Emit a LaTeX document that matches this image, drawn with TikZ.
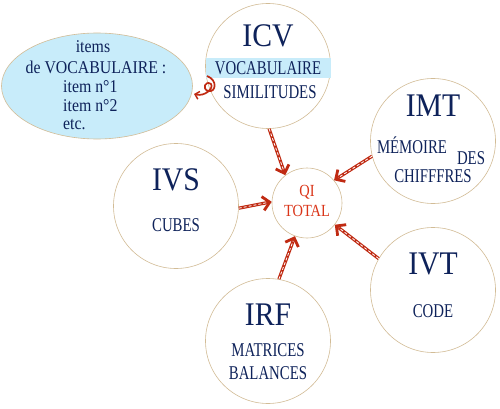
\documentclass[tikz,border=0pt]{standalone}
\usepackage{graphicx}
\usepackage{fontspec}
\setmainfont{Liberation Serif}
\usetikzlibrary{shapes.geometric,arrows.meta}
\definecolor{navy}{RGB}{14,34,90}
\definecolor{ring}{RGB}{210,188,150}
\definecolor{ared}{RGB}{192,42,18}
\definecolor{qired}{RGB}{218,52,24}
\definecolor{skyb}{RGB}{200,236,250}
\newcommand\cnd[2]{\scalebox{#1}[1]{#2}}
\begin{document}
\begin{tikzpicture}[x=1pt,y=-1pt,
  ring/.style={circle, draw=ring, line width=0.6pt, minimum size=125pt, inner sep=0pt},
  ttl/.style={text=navy, font=\fontsize{33}{33}\selectfont, inner sep=0pt},
  lbl/.style={text=navy, font=\fontsize{19.5}{22}\selectfont, inner sep=0pt},
  etxt/.style={text=navy, font=\fontsize{18}{20}\selectfont, inner sep=0pt},
  redarrow/.style={draw=ared, line width=3.2pt, -{Straight Barb[length=7pt,width=14pt,line width=2.8pt]},
    postaction={draw=white, line width=0.8pt, dash pattern=on 3pt off 2pt, -{}, shorten >=5pt}},
  curl/.style={draw=ared, line width=1.7pt, -{Straight Barb[length=4pt,width=8pt,line width=1.5pt]}}
]
\useasboundingbox[fill=white] (0,0) rectangle (500,409);

% ellipse with vocabulary items
\node[ellipse, draw=ring, fill=skyb, line width=0.6pt, minimum width=191pt, minimum height=106pt, inner sep=0pt] (ell) at (97,86) {};
\node[etxt] (e1) at (93,47) {\cnd{0.88}{items}};
\node[etxt] (e2) at (96,67) {\cnd{0.88}{de VOCABULAIRE :}};
\node[etxt, anchor=west] (e3) at (63,87) {\cnd{0.88}{item n°1}};
\node[etxt, anchor=west] (e4) at (63,106) {\cnd{0.88}{item n°2}};
\node[etxt, anchor=west] (e5) at (63,125) {\cnd{0.88}{etc.}};

% circles
\node[ring] (icv) at (268,66) {};
\node[ring] (imt) at (433,141) {};
\node[ring] (ivs) at (176,206) {};
\node[ring] (irf) at (268,341) {};
\node[ring] (ivt) at (433,290) {};
\node[circle, draw=ring, line width=0.6pt, minimum size=70pt, inner sep=0pt] (qi) at (307,203) {};

% ICV highlight band
\fill[skyb] (205.5,58) rectangle (330.5,78);

% texts
\node[ttl] (tICV) at (268,36) {\cnd{0.9}{ICV}};
\node[lbl] (vocab) at (268,68) {\cnd{0.76}{VOCABULAIRE}};
\node[lbl] (simil) at (270,92) {\cnd{0.76}{SIMILITUDES}};

\node[ttl] (tIMT) at (433,106) {\cnd{0.9}{IMT}};
\node[lbl] (mem) at (412,145) {\cnd{0.76}{MÉMOIRE}};
\node[lbl] (des) at (471,158) {\cnd{0.76}{DES}};
\node[lbl] (chif) at (433,176) {\cnd{0.76}{CHIFFFRES}};

\node[ttl] (tIVS) at (176,180) {\cnd{0.9}{IVS}};
\node[lbl] (cubes) at (176,225) {\cnd{0.76}{CUBES}};

\node[ttl] (tIRF) at (268,315) {\cnd{0.9}{IRF}};
\node[lbl] (matr) at (268,350) {\cnd{0.76}{MATRICES}};
\node[lbl] (bal) at (268,373) {\cnd{0.76}{BALANCES}};

\node[ttl] (tIVT) at (433,264) {\cnd{0.9}{IVT}};
\node[lbl] (code) at (433,311) {\cnd{0.76}{CODE}};

\node[text=qired, font=\fontsize{17}{19}\selectfont, inner sep=0pt] (qi1) at (307,192) {\cnd{0.85}{QI}};
\node[text=qired, font=\fontsize{17}{19}\selectfont, inner sep=0pt] (qi2) at (307,211) {\cnd{0.85}{TOTAL}};

% arrows
\draw[redarrow] (icv.-89) -- (qi.128);
\draw[redarrow] (imt.-166) -- (qi.40);
\draw[redarrow] (ivs.-2) -- (qi.178);
\draw[redarrow] (irf.80) -- (qi.-110);
\draw[redarrow] (ivt.150) -- (qi.-38);

% curly arrow to the ellipse
\coordinate (cs) at (207,76);
\coordinate (ce) at (194,94);
\draw[curl] (cs) .. controls (218,80) and (216,93) .. (208,91)
  .. controls (202,89) and (205,80) .. (211,84)
  .. controls (214,88) and (205,97) .. (ce);
\end{tikzpicture}
\end{document}
